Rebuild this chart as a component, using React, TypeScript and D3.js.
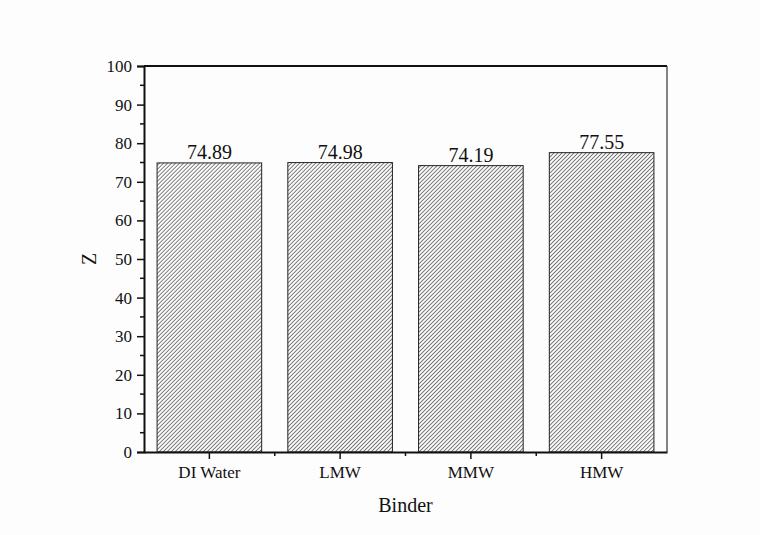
import { useRef, useEffect } from 'react';
import * as d3 from 'd3';

const categories = ['DI Water', 'LMW', 'MMW', 'HMW'];
const values = [74.89, 74.98, 74.19, 77.55];
const yTicks = [0, 10, 20, 30, 40, 50, 60, 70, 80, 90, 100];

export default function App() {
  const svgRef = useRef<SVGSVGElement>(null);

  useEffect(() => {
    const width = 760;
    const height = 535;
    const margin = { top: 66, right: 93, bottom: 83, left: 144 };
    const innerWidth = width - margin.left - margin.right;
    const innerHeight = height - margin.top - margin.bottom;
    const font = "'Times New Roman', 'Liberation Serif', 'DejaVu Serif', serif";

    const root = d3.select(svgRef.current);
    root.selectAll('*').remove();
    root.attr('width', width).attr('height', height).style('display', 'block');

    root.append('rect').attr('width', width).attr('height', height).attr('fill', '#fdfdfd');

    const defs = root.append('defs');
    const pat = defs.append('pattern')
      .attr('id', 'hatch')
      .attr('patternUnits', 'userSpaceOnUse')
      .attr('width', 2.83)
      .attr('height', 4)
      .attr('patternTransform', 'rotate(45)');
    pat.append('rect').attr('width', 2.83).attr('height', 4).attr('fill', '#fff');
    pat.append('line')
      .attr('x1', 0.5).attr('y1', 0).attr('x2', 0.5).attr('y2', 4)
      .attr('stroke', '#6a6a6a').attr('stroke-width', 0.9);

    const svg = root.append('g').attr('transform', `translate(${margin.left},${margin.top})`);

    const x = d3.scaleBand().domain(categories).range([0, innerWidth]).paddingInner(0.2).paddingOuter(0.1);
    const y = d3.scaleLinear().domain([0, 100]).range([innerHeight, 0]);

    // frame
    svg.append('line').attr('x1', 0).attr('x2', innerWidth).attr('y1', 0).attr('y2', 0)
      .attr('stroke', '#111').attr('stroke-width', 2);
    svg.append('line').attr('x1', innerWidth).attr('x2', innerWidth).attr('y1', 0).attr('y2', innerHeight)
      .attr('stroke', '#333').attr('stroke-width', 1.2);

    // bars
    svg.selectAll('rect.bar')
      .data(values)
      .enter()
      .append('rect')
      .attr('class', 'bar')
      .attr('x', (_d, i) => x(categories[i])!)
      .attr('width', x.bandwidth())
      .attr('y', d => y(d))
      .attr('height', d => innerHeight - y(d))
      .attr('fill', 'url(#hatch)')
      .attr('stroke', '#222')
      .attr('stroke-width', 1);

    svg.selectAll('text.val')
      .data(values)
      .enter()
      .append('text')
      .attr('class', 'val')
      .attr('x', (_d, i) => x(categories[i])! + x.bandwidth() / 2)
      .attr('y', d => y(d) - 4)
      .attr('text-anchor', 'middle')
      .style('font-family', font)
      .attr('font-size', 20)
      .attr('fill', '#111')
      .text(d => d.toFixed(2));

    // y axis
    const yAxis = svg.append('g')
      .call(d3.axisLeft(y).tickValues(yTicks).tickSize(7).tickPadding(5).tickFormat(d3.format('d')));
    yAxis.attr('font-family', null);
    yAxis.select('.domain').attr('stroke', '#111').attr('stroke-width', 2);
    yAxis.selectAll('.tick line').attr('stroke', '#111').attr('stroke-width', 1.5);
    yAxis.selectAll('.tick text').style('font-family', font).attr('font-size', 17).attr('fill', '#111');
    yAxis.selectAll('line.minor')
      .data(d3.range(5, 100, 10))
      .enter()
      .append('line')
      .attr('class', 'minor')
      .attr('x1', -4).attr('x2', 0)
      .attr('y1', d => y(d)).attr('y2', d => y(d))
      .attr('stroke', '#111').attr('stroke-width', 1.5);

    // x axis
    const xAxis = svg.append('g')
      .attr('transform', `translate(0,${innerHeight})`)
      .call(d3.axisBottom(x).tickSize(7).tickPadding(7).tickSizeOuter(0));
    xAxis.attr('font-family', null);
    xAxis.select('.domain').attr('stroke', '#111').attr('stroke-width', 2);
    xAxis.selectAll('.tick line').attr('stroke', '#111').attr('stroke-width', 1.5);
    xAxis.selectAll('.tick text').style('font-family', font).attr('font-size', 17).attr('fill', '#111');
    const step = x.step();
    xAxis.selectAll('line.minor')
      .data(d3.range(1, categories.length))
      .enter()
      .append('line')
      .attr('class', 'minor')
      .attr('x1', d => d * step).attr('x2', d => d * step)
      .attr('y1', 0).attr('y2', 4)
      .attr('stroke', '#111').attr('stroke-width', 1.5);

    // titles
    svg.append('text')
      .attr('x', innerWidth / 2)
      .attr('y', innerHeight + 60)
      .attr('text-anchor', 'middle')
      .style('font-family', font)
      .attr('font-size', 20)
      .attr('fill', '#111')
      .text('Binder');

    svg.append('text')
      .attr('transform', `translate(-48,${innerHeight / 2}) rotate(-90)`)
      .attr('text-anchor', 'middle')
      .style('font-family', font)
      .attr('font-size', 20)
      .attr('fill', '#111')
      .text('Z');
  }, []);

  return <svg ref={svgRef} style={{ position: 'absolute', left: 0, top: 0 }}></svg>;
}
